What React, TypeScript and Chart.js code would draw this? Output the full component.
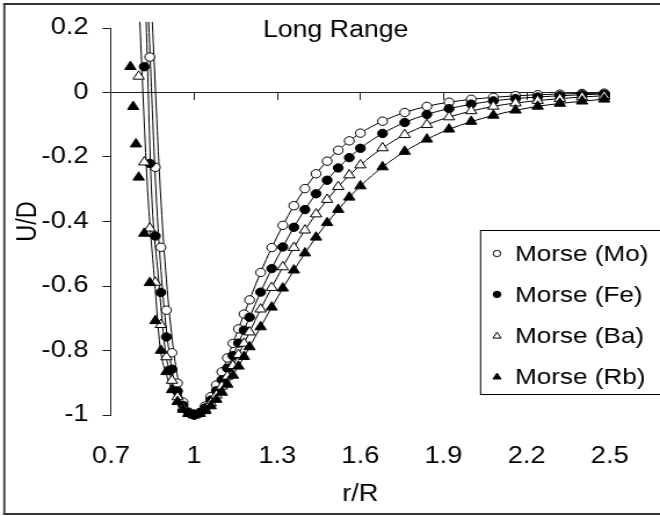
import React, { useEffect, useRef } from 'react';
import { Chart, registerables } from 'chart.js';

Chart.register(...registerables);

// ---------- page / stretch ----------
const PAGE_W = 660;
const PAGE_H = 516;
const CW = 569; // canvas logical width, shown stretched to PAGE_W
const S = PAGE_W / CW;
const FONT = '"Liberation Sans", Arial, Helvetica, sans-serif';

// ---------- text ----------
const chartTitle = 'Long Range';
const xTitle = 'r/R';
const yTitle = 'U/D';
const seriesNames = ['Morse (Mo)', 'Morse (Fe)', 'Morse (Ba)', 'Morse (Rb)'];

// ---------- ticks ----------
const xTicks = [0.7, 1.0, 1.3, 1.6, 1.9, 2.2, 2.5];
const xTickLabels = ['0.7', '1', '1.3', '1.6', '1.9', '2.2', '2.5'];
const yTicks = [0.2, 0, -0.2, -0.4, -0.6, -0.8, -1];
const yTickLabels = ['0.2', '0', '-0.2', '-0.4', '-0.6', '-0.8', '-1'];

// ---------- marker data ----------
const gridMid = [0.92, 0.94, 0.96, 0.98, 1.0, 1.02, 1.04, 1.06, 1.08, 1.1, 1.12, 1.14, 1.16, 1.18, 1.2,
  1.24, 1.28, 1.32, 1.36, 1.4, 1.44, 1.48, 1.52, 1.56, 1.6, 1.68, 1.76, 1.84, 1.92, 2.0, 2.08, 2.16,
  2.24, 2.32, 2.4, 2.48];

const moLeftX = [0.84, 0.86, 0.88, 0.9];
const moLeftY = [0.11, -0.232, -0.48, -0.675];
const moMidY = [-0.807, -0.901, -0.96, -0.991, -1.0, -0.992, -0.972, -0.943, -0.907, -0.866, -0.823, -0.778,
  -0.733, -0.687, -0.643, -0.558, -0.481, -0.412, -0.351, -0.298, -0.252, -0.213, -0.179, -0.15, -0.126,
  -0.089, -0.062, -0.043, -0.03, -0.021, -0.015, -0.01, -0.007, -0.005, -0.003, -0.002];

const feLeftX = [0.82, 0.84, 0.86, 0.88, 0.9];
const feLeftY = [0.08, -0.22, -0.445, -0.62, -0.758];
const feMidY = [-0.858, -0.926, -0.97, -0.993, -1.0, -0.994, -0.978, -0.954, -0.925, -0.891, -0.855, -0.816,
  -0.777, -0.737, -0.697, -0.619, -0.546, -0.479, -0.418, -0.363, -0.314, -0.272, -0.234, -0.202, -0.173,
  -0.127, -0.093, -0.068, -0.05, -0.036, -0.026, -0.019, -0.014, -0.01, -0.007, -0.005];

const baLeftX = [0.8, 0.82, 0.84, 0.86, 0.88, 0.9];
const baLeftY = [0.05, -0.216, -0.421, -0.589, -0.72, -0.82];
const baMidY = [-0.893, -0.944, -0.977, -0.995, -1.0, -0.995, -0.983, -0.963, -0.939, -0.911, -0.88, -0.847,
  -0.813, -0.778, -0.743, -0.672, -0.605, -0.541, -0.481, -0.427, -0.377, -0.332, -0.292, -0.256, -0.225,
  -0.172, -0.131, -0.1, -0.076, -0.057, -0.043, -0.033, -0.025, -0.019, -0.014, -0.011];

const rbLeftX = [0.77, 0.78, 0.79, 0.8, 0.82, 0.84, 0.86, 0.88, 0.9];
const rbLeftY = [0.08, -0.044, -0.16, -0.263, -0.437, -0.59, -0.708, -0.8, -0.866];
const rbMidY = [-0.922, -0.959, -0.983, -0.996, -1.0, -0.996, -0.987, -0.972, -0.952, -0.93, -0.905, -0.877,
  -0.849, -0.819, -0.789, -0.727, -0.666, -0.607, -0.551, -0.498, -0.449, -0.404, -0.363, -0.325, -0.29,
  -0.231, -0.183, -0.145, -0.114, -0.09, -0.071, -0.055, -0.043, -0.034, -0.027, -0.021];

// ---------- curve data ----------
const moLineX = [0.849, 0.878, 0.9, 0.924, 0.943, 0.96, 0.98, 1.0, 1.02, 1.04, 1.08, 1.12, 1.16, 1.2, 1.24, 1.28,
  1.36, 1.44, 1.52, 1.6, 1.68, 1.76, 1.84, 1.92, 2.08, 2.24, 2.4, 2.5];
const moLineY = [0.219, -0.302, -0.581, -0.788, -0.895, -0.955, -0.991, -1.0, -0.992, -0.972, -0.907, -0.823,
  -0.733, -0.643, -0.558, -0.481, -0.351, -0.252, -0.179, -0.126, -0.089, -0.062, -0.043, -0.03, -0.015,
  -0.007, -0.003, -0.002];

const feLineX = [0.836, 0.862, 0.883, 0.907, 0.93, 0.96, 0.98, 1.0, 1.02, 1.04, 1.08, 1.12, 1.16, 1.2, 1.24, 1.28,
  1.36, 1.44, 1.52, 1.6, 1.68, 1.76, 1.84, 1.92, 2.08, 2.24, 2.4, 2.5];
const feLineY = [0.219, -0.302, -0.581, -0.788, -0.9, -0.97, -0.993, -1.0, -0.994, -0.978, -0.925, -0.855,
  -0.777, -0.697, -0.619, -0.546, -0.418, -0.314, -0.234, -0.173, -0.127, -0.093, -0.068, -0.05, -0.026,
  -0.014, -0.007, -0.004];

const baLineX = [0.827, 0.846, 0.872, 0.894, 0.915, 0.94, 0.96, 0.98, 1.0, 1.02, 1.04, 1.08, 1.12, 1.16, 1.2,
  1.24, 1.28, 1.36, 1.44, 1.52, 1.6, 1.68, 1.76, 1.84, 1.92, 2.08, 2.24, 2.4, 2.5];
const baLineY = [0.219, -0.302, -0.581, -0.788, -0.88, -0.944, -0.977, -0.995, -1.0, -0.995, -0.983, -0.939,
  -0.88, -0.813, -0.743, -0.672, -0.605, -0.481, -0.377, -0.292, -0.225, -0.172, -0.131, -0.1, -0.076,
  -0.043, -0.025, -0.014, -0.009];

const rbLineX = [0.804, 0.832, 0.857, 0.877, 0.9, 0.92, 0.94, 0.96, 0.98, 1.0, 1.02, 1.04, 1.08, 1.12, 1.16, 1.2,
  1.24, 1.28, 1.36, 1.44, 1.52, 1.6, 1.68, 1.76, 1.84, 1.92, 2.08, 2.24, 2.4, 2.5];
const rbLineY = [0.219, -0.302, -0.581, -0.788, -0.875, -0.922, -0.959, -0.983, -0.996, -1.0, -0.996, -0.987,
  -0.952, -0.905, -0.849, -0.789, -0.727, -0.666, -0.551, -0.449, -0.363, -0.29, -0.231, -0.183, -0.145,
  -0.114, -0.071, -0.043, -0.027, -0.019];

// ---------- styles ----------
const markerStyles = ['circle', 'circle', 'triangle', 'triangle'];
const markerFills = ['#ffffff', '#000000', '#ffffff', '#000000'];

const px = (v: number) => v / S; // page x -> canvas x
const PLOT_RIGHT = px(641);
const PLOT_LEFT = px(111);
const PLOT_TOP = 28;
const PLOT_BOTTOM = 415;

function drawMarker(ctx: CanvasRenderingContext2D, style: string, fill: string, x: number, y: number, r: number) {
  ctx.beginPath();
  if (style === 'circle') {
    ctx.arc(x, y, r, 0, Math.PI * 2);
  } else {
    ctx.moveTo(x, y - r);
    ctx.lineTo(x + r * 0.866, y + r * 0.5);
    ctx.lineTo(x - r * 0.866, y + r * 0.5);
    ctx.closePath();
  }
  ctx.fillStyle = fill;
  ctx.fill();
  ctx.lineWidth = 1;
  ctx.strokeStyle = '#000';
  ctx.stroke();
}

const decor = {
  id: 'decor',
  afterDraw(chart: any) {
    const ctx: CanvasRenderingContext2D = chart.ctx;
    ctx.save();
    // outer frame
    ctx.fillStyle = '#333';
    ctx.fillRect(px(3.3), 3, px(2), 512);
    ctx.fillRect(px(3.3), 3, CW, 2);
    ctx.fillRect(px(3.3), 513, CW, 2);
    // title inside plot
    ctx.fillStyle = '#000';
    ctx.font = `23px ${FONT}`;
    ctx.textAlign = 'left';
    ctx.textBaseline = 'alphabetic';
    ctx.fillText(chartTitle, px(263), 37);
    // legend
    ctx.fillStyle = '#fff';
    ctx.fillRect(px(480), 230.5, CW, 164);
    ctx.lineWidth = 1;
    ctx.strokeStyle = '#000';
    ctx.strokeRect(px(480) + 0.5, 230.5, CW, 164);
    ctx.font = `22.5px ${FONT}`;
    for (let i = 0; i < seriesNames.length; i++) {
      const base = 261 + i * 40.9;
      const cy = base - 7.5;
      drawMarker(ctx, markerStyles[i], markerFills[i], px(497), cy + (markerStyles[i] === 'triangle' ? 0.8 : 0), markerStyles[i] === 'triangle' ? 4 : 3.2);
      ctx.fillStyle = '#000';
      ctx.textBaseline = 'alphabetic';
      ctx.fillText(seriesNames[i], px(515), base);
    }
    ctx.restore();
  },
};

export default function App() {
  const ref = useRef<HTMLCanvasElement | null>(null);

  useEffect(() => {
    document.body.style.margin = '0';
    const canvas = ref.current;
    if (!canvas) return;

    const pts = (xs: number[], ys: number[]) => xs.map((x, i) => ({ x, y: ys[i] }));

    const markerDs = (i: number, xs: number[], ys: number[], order: number) => ({
      type: 'scatter',
      label: seriesNames[i],
      data: pts(xs, ys),
      xAxisID: 'x',
      yAxisID: 'y',
      showLine: false,
      pointStyle: markerStyles[i],
      pointRadius: markerStyles[i] === 'triangle' ? 5.6 : 4.2,
      pointBackgroundColor: markerFills[i],
      pointBorderColor: '#000',
      pointBorderWidth: 1,
      order,
      clip: false,
    });

    const lineDs = (xs: number[], ys: number[], order: number) => ({
      type: 'scatter',
      label: '',
      data: pts(xs, ys),
      xAxisID: 'x',
      yAxisID: 'y',
      showLine: true,
      pointRadius: 0,
      borderColor: '#000',
      borderWidth: 1,
      cubicInterpolationMode: 'monotone',
      fill: false,
      order,
      clip: false,
    });

    const labelFor = (ticks: number[], labels: string[], v: number) => {
      const idx = ticks.findIndex((t) => Math.abs(t - v) < 1e-6);
      return idx >= 0 ? labels[idx] : '';
    };

    const tickFont = { family: FONT, size: 23.5 };

    const chart = new Chart(canvas, {
      type: 'scatter',
      data: {
        datasets: [
          lineDs(moLineX, moLineY, 13),
          lineDs(feLineX, feLineY, 12),
          lineDs(baLineX, baLineY, 11),
          lineDs(rbLineX, rbLineY, 10),
          markerDs(0, moLeftX.concat(gridMid), moLeftY.concat(moMidY), 3),
          markerDs(1, feLeftX.concat(gridMid), feLeftY.concat(feMidY), 2),
          markerDs(2, baLeftX.concat(gridMid), baLeftY.concat(baMidY), 1),
          markerDs(3, rbLeftX.concat(gridMid), rbLeftY.concat(rbMidY), 0),
        ] as any,
      },
      options: {
        animation: false,
        responsive: false,
        devicePixelRatio: 1,
        layout: { padding: { left: 0, right: CW - PLOT_RIGHT, top: PLOT_TOP, bottom: 0 } },
        plugins: {
          legend: { display: false },
          tooltip: { enabled: false },
          title: { display: false },
        },
        scales: {
          x: {
            type: 'linear',
            axis: 'x',
            position: 'bottom',
            min: 0.7,
            max: 2.5,
            afterBuildTicks: (s: any) => { s.ticks = xTicks.map((v) => ({ value: v })); },
            afterFit: (s: any) => { s.height = PAGE_H - PLOT_BOTTOM; },
            grid: { display: false, drawTicks: false },
            border: { display: false },
            ticks: {
              autoSkip: false,
              maxRotation: 0,
              padding: 27,
              color: '#000',
              font: tickFont,
              callback: (v: any) => labelFor(xTicks, xTickLabels, Number(v)),
            },
            title: {
              display: true,
              text: xTitle,
              color: '#000',
              font: tickFont,
              padding: { top: 0, bottom: 7 },
            },
          },
          x2: {
            type: 'linear',
            axis: 'x',
            position: { y: 0 },
            min: 0.7,
            max: 2.5,
            afterBuildTicks: (s: any) => { s.ticks = xTicks.map((v) => ({ value: v })); },
            grid: { display: true, drawOnChartArea: false, drawTicks: true, tickLength: 7, color: '#222', lineWidth: 1 },
            border: { display: true, color: '#222', width: 1 },
            ticks: { display: false },
          },
          y: {
            type: 'linear',
            position: 'left',
            min: -1,
            max: 0.2,
            afterBuildTicks: (s: any) => { s.ticks = yTicks.slice().reverse().map((v) => ({ value: v })); },
            afterFit: (s: any) => { s.width = PLOT_LEFT; },
            grid: { display: true, drawOnChartArea: false, drawTicks: true, tickLength: px(8.5), color: '#222', lineWidth: 1 },
            border: { display: true, color: '#222', width: 1 },
            ticks: {
              padding: 12,
              color: '#000',
              font: tickFont,
              callback: (v: any) => labelFor(yTicks, yTickLabels, Number(v)),
            },
            title: {
              display: true,
              text: yTitle,
              color: '#000',
              font: tickFont,
              padding: { top: 10, bottom: 0 },
            },
          },
        },
      } as any,
      plugins: [decor],
    });

    return () => chart.destroy();
  }, []);

  return (
    <div style={{ width: PAGE_W, height: PAGE_H, overflow: 'hidden', position: 'relative', background: '#fff' }}>
      <div style={{ width: CW, height: PAGE_H, transform: `scaleX(${S})`, transformOrigin: '0 0' }}>
        <canvas ref={ref} width={CW} height={PAGE_H} style={{ display: 'block' }} />
      </div>
    </div>
  );
}
